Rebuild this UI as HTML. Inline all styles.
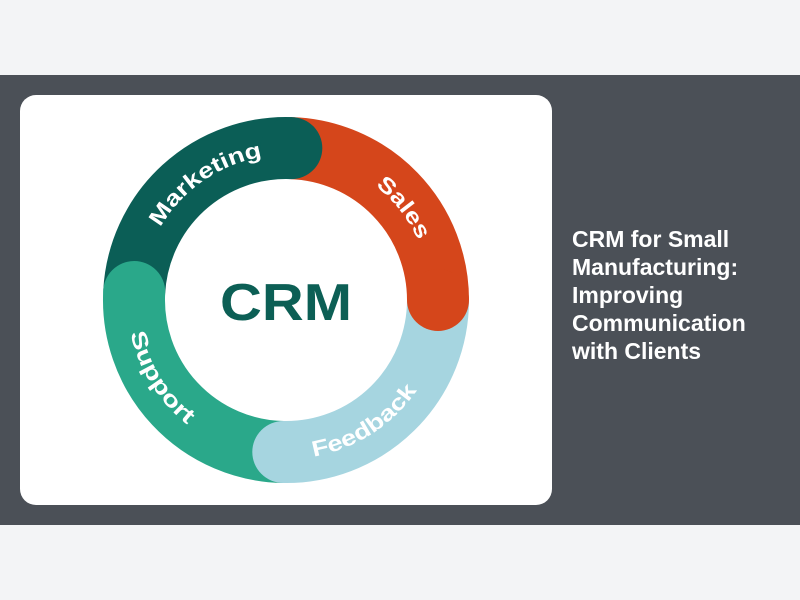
<!DOCTYPE html>
<html><head><meta charset="utf-8"><style>
html,body{margin:0;padding:0;width:800px;height:600px;background:#f3f4f6;overflow:hidden;font-family:"Liberation Sans",sans-serif}
.band{position:absolute;left:0;top:75px;width:800px;height:450px;background:#4b5057}
.card{position:absolute;left:20px;top:95px;width:532px;height:410px;background:#fff;border-radius:16px}
.title{position:absolute;left:572px;top:225px;color:#fff;font-weight:bold;font-size:23px;line-height:28px}
svg{position:absolute;left:0;top:0}
</style></head><body>
<div class="band"></div>
<div class="card"></div>
<svg width="800" height="600" viewBox="0 0 800 600">
<defs>
<path id="pm" d="M160.4,227.5 A145,145 0 0 1 265.8,156.4"/>
<path id="ps" d="M375.3,185.7 A145,145 0 0 1 420.4,245.7"/>
<path id="pf" d="M313.6,456.6 A159,159 0 0 0 419.4,386.6"/>
<path id="pu" d="M130.5,333.1 A159,159 0 0 0 190.3,427.0"/>
</defs>
<g fill="none" stroke-width="62">
<path d="M134.2,292.0 A152,152 0 0 1 291.3,148.1" stroke="#0b5e56"/>
<path d="M291.3,148.1 A152,152 0 0 1 438,300" stroke="#d5461b"/>
<path d="M438,300 A152,152 0 0 1 283.3,452.0" stroke="#a6d5e0"/>
<path d="M283.3,452.0 A152,152 0 0 1 134.2,292.0" stroke="#2aa88a"/>
</g>
<circle cx="291.3" cy="148.1" r="31" fill="#0b5e56"/>
<circle cx="438" cy="300" r="31" fill="#d5461b"/>
<circle cx="283.3" cy="452.0" r="31" fill="#a6d5e0"/>
<circle cx="134.2" cy="292.0" r="31" fill="#2aa88a"/>
<g fill="#fff" font-family="Liberation Sans, sans-serif" font-weight="bold" font-size="22">
<text><textPath href="#pm" textLength="128" lengthAdjust="spacingAndGlyphs">Marketing</textPath></text>
<text><textPath href="#ps" textLength="70" lengthAdjust="spacingAndGlyphs">Sales</textPath></text>
<text><textPath href="#pf" textLength="126" lengthAdjust="spacingAndGlyphs">Feedback</textPath></text>
<text><textPath href="#pu" textLength="110" lengthAdjust="spacingAndGlyphs">Support</textPath></text>
</g>
<text x="286" y="320" text-anchor="middle" font-family="Liberation Sans, sans-serif" font-weight="bold" font-size="52" fill="#0c5f55" textLength="132" lengthAdjust="spacingAndGlyphs">CRM</text>
</svg>
<div class="title">CRM for Small<br>Manufacturing:<br>Improving<br>Communication<br>with Clients</div>
</body></html>
